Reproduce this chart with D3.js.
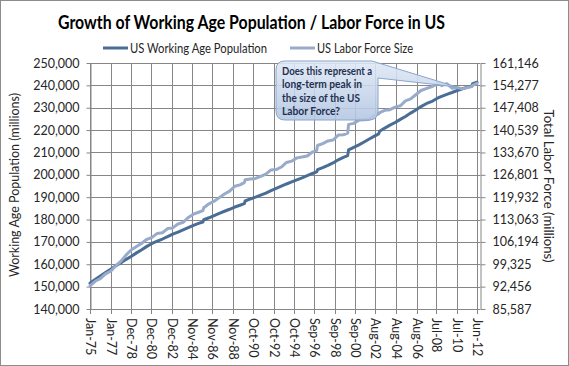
<!DOCTYPE html>
<html>
<head>
<meta charset="utf-8">
<script src="https://cdn.jsdelivr.net/npm/d3@7"></script>
<style>
  html, body { margin: 0; padding: 0; background: #fff; }
  svg { display: block; font-family: Lato, "Open Sans", "DejaVu Sans", sans-serif; }
</style>
</head>
<body>
<svg id="chart" width="569" height="366"></svg>
<script>
// ---------- data ----------
const dates = [
  "1975-01","1975-07","1976-01","1976-07","1977-01","1977-07","1978-01","1978-07",
  "1979-01","1979-07","1980-01","1980-07","1981-01","1981-07","1982-01","1982-07",
  "1983-01","1983-07","1984-01","1984-07","1985-01","1985-07","1985-12","1986-01",
  "1986-07","1987-01","1987-07","1988-01","1988-07","1989-01","1989-07","1989-12",
  "1990-01","1990-07","1991-01","1991-07","1992-01","1992-07","1993-01","1993-07",
  "1994-01","1994-07","1995-01","1995-07","1996-01","1996-07","1996-12","1997-01",
  "1997-07","1998-01","1998-07","1999-01","1999-07","1999-12","2000-01","2000-07",
  "2001-01","2001-07","2002-01","2002-07","2002-12","2003-01","2003-07","2004-01",
  "2004-07","2005-01","2005-07","2006-01","2006-07","2007-01","2007-07","2008-01",
  "2008-07","2008-10","2009-01","2009-07","2010-01","2010-07","2011-01","2011-07",
  "2011-12","2012-01","2012-06"
];
const workingAgePop = [
  151500,153200,154800,156300,157800,159300,160700,162200,
  163600,165100,166500,168000,169300,170300,171300,172400,
  173500,174400,175400,176400,177400,178300,178900,179900,
  180800,181800,182800,183700,184600,185600,186400,187100,
  188300,189200,190000,190900,191800,192900,193900,194900,
  195900,196800,197700,198600,199600,200600,201300,202300,
  203200,204200,205300,206700,207800,208600,211200,212300,
  213400,214700,216000,217300,218300,219500,220900,222200,
  223400,224800,226100,227600,229000,230500,231800,232700,
  234000,234600,235100,236000,236800,237700,238500,239200,
  239700,240800,241400
];
const laborForce = [
  92700,94100,94900,96400,97200,98900,100300,102200,
  103800,104800,105800,107000,107600,108800,109000,110300,
  110500,111700,112200,113700,114700,115300,115800,116700,
  117900,118700,119800,120900,121800,123300,123700,124400,
  125300,125500,125700,126300,127000,128300,128400,129200,
  130600,131000,132000,132300,132600,133800,134300,135800,
  136400,137200,137500,139000,139100,139600,142300,142600,
  143600,143700,143900,145000,145500,145900,146600,146800,
  147600,148000,149500,150100,151400,152700,153300,153800,
  154600,154900,154200,154800,153400,153600,153200,153600,
  153900,154300,154900
];
const xTickLabels = ["Jan-75","Jan-77","Dec-78","Dec-80","Dec-82","Nov-84","Nov-86","Nov-88",
  "Oct-90","Oct-92","Oct-94","Sep-96","Sep-98","Sep-00","Aug-02","Aug-04","Aug-06",
  "Jul-08","Jul-10","Jun-12"];
const leftTicks = [140000,150000,160000,170000,180000,190000,200000,210000,220000,230000,240000,250000];
const rightTicks = [85587,92456,99325,106194,113063,119932,126801,133670,140539,147408,154277,161146];
const seriesNames = ["US Working Age Population","US Labor Force Size"];
const titleText = "Growth of Working Age Population / Labor Force in US";
const leftTitle = "Working Age Population (millions)";
const rightTitle = "Total Labor Force (millions)";
const calloutLines = ["Does this represent a","long-term peak in","the size of the US","Labor Force?"];

// ---------- helpers ----------
const monNames = ["Jan","Feb","Mar","Apr","May","Jun","Jul","Aug","Sep","Oct","Nov","Dec"];
function idxFromISO(s){ const [y,m]=s.split("-").map(Number); return (y-1975)*12+(m-1); }
function idxFromLabel(s){ const [mn,yy]=s.split("-"); const y=1900+(+yy<50?100:0)+(+yy); return (y-1975)*12+monNames.indexOf(mn); }
function fit(sel, w){ sel.each(function(){ const l=this.getComputedTextLength(); if (Math.abs(l-w)>1){ d3.select(this).attr("textLength",w).attr("lengthAdjust","spacingAndGlyphs"); } }); return sel; }

const svg = d3.select("#chart");
const W = 569, H = 366;
const L = 90, R = 480, T = 63, B = 309;
const DARK = "#4a6d96", LIGHT = "#98abc9", GRID = "#868686", TXT = "#262626";

svg.append("rect").attr("x",0.5).attr("y",0.5).attr("width",W-1).attr("height",H-1)
  .attr("fill","#fff").attr("stroke","#8c8c8c");

const x = d3.scaleLinear().domain([0, idxFromLabel("Jun-12")]).range([L, 477]);
const yL = d3.scaleLinear().domain([140000,250000]).range([B, T]);
const yR = d3.scaleLinear().domain([rightTicks[0], rightTicks[rightTicks.length-1]]).range([B, T]);

// gridlines
const g = svg.append("g");
g.selectAll(".hg").data(leftTicks).join("line")
  .attr("x1",L).attr("x2",R).attr("y1",d=>Math.round(yL(d))+0.5).attr("y2",d=>Math.round(yL(d))+0.5)
  .attr("stroke",GRID).attr("stroke-width",1);
g.selectAll(".vg").data(xTickLabels).join("line")
  .attr("x1",d=>Math.round(x(idxFromLabel(d)))+0.5).attr("x2",d=>Math.round(x(idxFromLabel(d)))+0.5)
  .attr("y1",T).attr("y2",B+5)
  .attr("stroke",GRID).attr("stroke-width",1);

// axes
const axL = svg.append("g").attr("transform",`translate(${L+0.5},0)`)
  .call(d3.axisLeft(yL).tickValues(leftTicks).tickSize(4).tickSizeOuter(0).tickFormat(d3.format(",")));
const axR = svg.append("g").attr("transform",`translate(${R+0.5},0)`)
  .call(d3.axisRight(yR).tickValues(rightTicks).tickSize(5).tickSizeOuter(0).tickFormat(d3.format(",")));
[axL,axR].forEach(a=>{
  a.select(".domain").attr("stroke",GRID);
  a.selectAll(".tick line").attr("stroke",GRID);
  a.selectAll(".tick text").attr("fill",TXT).attr("font-size",12.5).attr("font-family","Lato, sans-serif");
});
axL.selectAll(".tick text").attr("x",-11);
axR.selectAll(".tick text").attr("x",12);
// bottom axis line
svg.append("line").attr("x1",L).attr("x2",R).attr("y1",B+0.5).attr("y2",B+0.5).attr("stroke",GRID);

// x tick labels
svg.append("g").selectAll("text").data(xTickLabels).join("text")
  .attr("transform",d=>`translate(${x(idxFromLabel(d))-4},318) rotate(90)`)
  .attr("font-size",12.5).attr("fill",TXT).attr("text-anchor","start")
  .text(d=>d);

// lines
const pts = dates.map(idxFromISO);
const lineL = d3.line().x((d,i)=>x(pts[i])).y(d=>yL(d)).curve(d3.curveLinear);
const lineR = d3.line().x((d,i)=>x(pts[i])).y(d=>yR(d)).curve(d3.curveLinear);
svg.append("path").datum(workingAgePop).attr("d",lineL).attr("fill","none")
  .attr("stroke",DARK).attr("stroke-width",3).attr("stroke-linejoin","round").attr("stroke-linecap","round");
svg.append("path").datum(laborForce).attr("d",lineR).attr("fill","none")
  .attr("stroke",LIGHT).attr("stroke-width",3).attr("stroke-linejoin","round").attr("stroke-linecap","round");

// title
fit(svg.append("text").attr("x",58).attr("y",29).attr("font-size",18).attr("font-weight","bold")
  .attr("fill","#000").text(titleText), 387);

// legend
const lg = svg.append("g");
lg.append("line").attr("x1",103).attr("x2",128).attr("y1",48).attr("y2",48).attr("stroke",DARK).attr("stroke-width",3);
fit(lg.append("text").attr("x",130).attr("y",52.5).attr("font-size",13).attr("fill",TXT).text(seriesNames[0]),137);
lg.append("line").attr("x1",290).attr("x2",315).attr("y1",48).attr("y2",48).attr("stroke",LIGHT).attr("stroke-width",3);
fit(lg.append("text").attr("x",317).attr("y",52.5).attr("font-size",13).attr("fill",TXT).text(seriesNames[1]),96);

// axis titles
fit(svg.append("text").attr("transform","translate(19,185) rotate(-90)").attr("text-anchor","middle")
  .attr("font-size",13).attr("fill",TXT).text(leftTitle),184);
fit(svg.append("text").attr("transform","translate(544,186) rotate(90)").attr("text-anchor","middle")
  .attr("font-size",13).attr("fill",TXT).text(rightTitle),153);

// callout
const defs = svg.append("defs");
const grad = defs.append("linearGradient").attr("id","cg").attr("x1",0).attr("y1",0).attr("x2",0).attr("y2",1);
grad.append("stop").attr("offset","0%").attr("stop-color","#dfe8f5");
grad.append("stop").attr("offset","100%").attr("stop-color","#b3c6e2");
const bx=276, by=61, bw=102, bh=59, r=9;
const path = d3.path();
path.moveTo(bx+r,by);
path.lineTo(372,by);
path.lineTo(457,87);
path.lineTo(bx+bw,78);
path.lineTo(bx+bw,by+bh-r);
path.quadraticCurveTo(bx+bw,by+bh,bx+bw-r,by+bh);
path.lineTo(bx+r,by+bh);
path.quadraticCurveTo(bx,by+bh,bx,by+bh-r);
path.lineTo(bx,by+r);
path.quadraticCurveTo(bx,by,bx+r,by);
path.closePath();
svg.append("path").attr("d",path.toString()).attr("fill","url(#cg)").attr("fill-opacity",0.88)
  .attr("stroke","#8aa6cf").attr("stroke-width",1);
const ct = svg.append("g");
const widths=[90,80,78,58];
calloutLines.forEach((t,i)=>{
  fit(ct.append("text").attr("x",282).attr("y",74.5+i*13.5).attr("font-size",11).attr("font-weight","bold")
    .attr("fill","#1f3050").text(t), widths[i]);
});
</script>
</body>
</html>
